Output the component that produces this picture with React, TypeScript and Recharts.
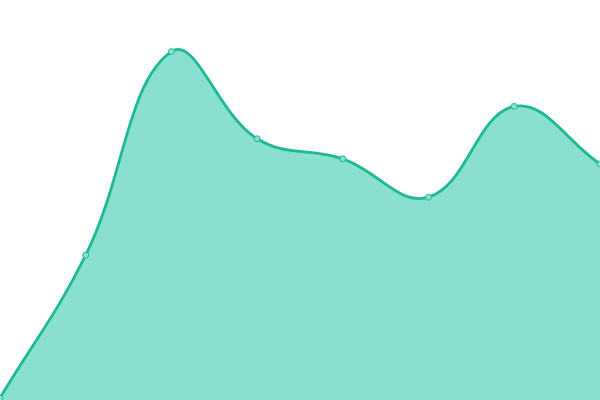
import React from 'react';
import { AreaChart, Area, XAxis, YAxis } from 'recharts';

const categories = ['A', 'B', 'C', 'D', 'E', 'F', 'G', 'H'];
const values = [0.5, 36.2, 87.1, 65.3, 60.3, 50.7, 73.4, 59.0];

const data = categories.map((name, i) => ({ name, value: values[i] }));

// tension spline, control points weighted by segment length
const TENSION = 0.4;

const splineCurve = (context: any) => {
  let xs: number[] = [];
  let ys: number[] = [];
  let line = NaN;
  return {
    areaStart() { line = 0; },
    areaEnd() { line = NaN; },
    lineStart() { xs = []; ys = []; },
    point(x: number, y: number) { xs.push(+x); ys.push(+y); },
    lineEnd() {
      const n = xs.length;
      if (n) {
        if (line) context.lineTo(xs[0], ys[0]);
        else context.moveTo(xs[0], ys[0]);
        const cps = xs.map((x, i) => {
          const pi = Math.max(i - 1, 0);
          const ni = Math.min(i + 1, n - 1);
          const d01 = Math.hypot(x - xs[pi], ys[i] - ys[pi]);
          const d12 = Math.hypot(xs[ni] - x, ys[ni] - ys[i]);
          let s01 = d01 / (d01 + d12);
          let s12 = d12 / (d01 + d12);
          if (isNaN(s01)) s01 = 0;
          if (isNaN(s12)) s12 = 0;
          const dx = xs[ni] - xs[pi];
          const dy = ys[ni] - ys[pi];
          return {
            px: x - TENSION * s01 * dx,
            py: ys[i] - TENSION * s01 * dy,
            nx: x + TENSION * s12 * dx,
            ny: ys[i] + TENSION * s12 * dy,
          };
        });
        for (let i = 1; i < n; i++) {
          context.bezierCurveTo(cps[i - 1].nx, cps[i - 1].ny, cps[i].px, cps[i].py, xs[i], ys[i]);
        }
      }
      if (line || (line !== 0 && n === 1)) context.closePath();
      line = 1 - line;
    },
  };
};

const App: React.FC = () => {
  return (
    <div style={{ position: 'absolute', left: 0, top: 0, width: 600, height: 400, background: '#fff' }}>
      <AreaChart width={600} height={400} data={data} margin={{ top: 0, right: 0, bottom: 0, left: 0 }}>
        <XAxis dataKey="name" hide />
        <YAxis domain={[0, 100]} hide />
        <Area
          type={splineCurve as any}
          dataKey="value"
          stroke="#1db894"
          strokeWidth={2.8}
          fill="#89e0d0"
          fillOpacity={1}
          dot={{ r: 3, fill: '#89e0d0', stroke: '#1db894', strokeWidth: 1, fillOpacity: 1 }}
          activeDot={false}
          isAnimationActive={false}
        />
      </AreaChart>
    </div>
  );
};

export default App;
